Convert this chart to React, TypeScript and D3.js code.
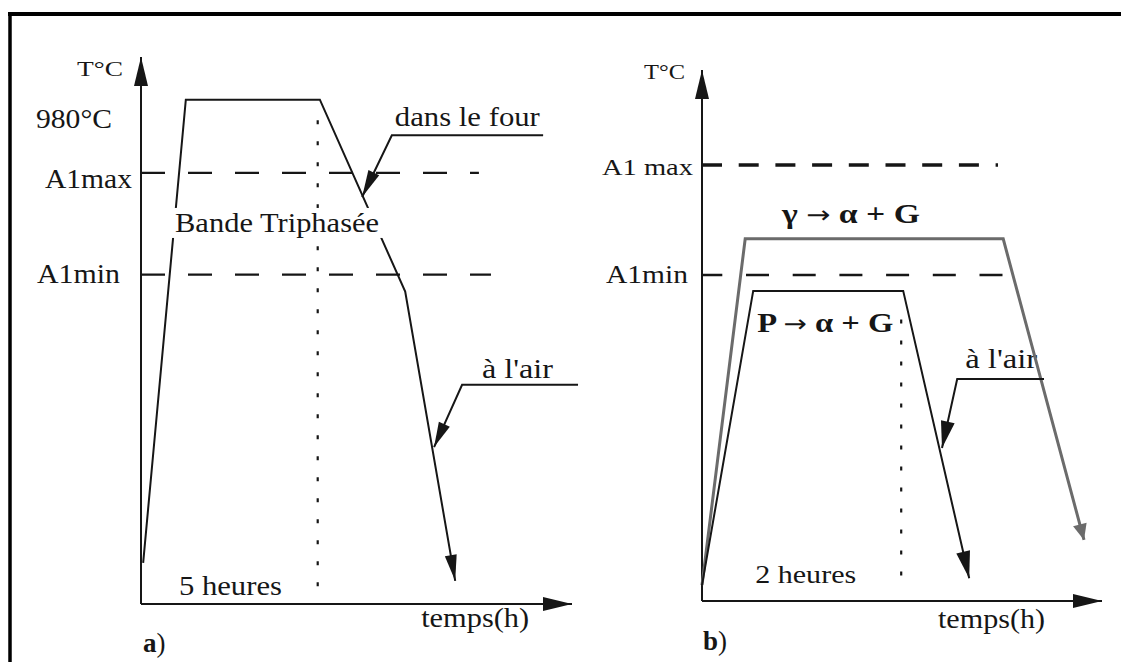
import { useEffect, useRef } from "react";
import * as d3 from "d3";

const WIDTH = 1121;
const HEIGHT = 662;

// ---- panel a) : hold at 980°C (5 h), furnace cooling then air cooling
// time in axis units (0..10), temperature in °C
const timeA = [0.05, 1.04, 4.15, 6.13, 7.29];
const tempA = [80, 980, 980, 607, 45];
const a1TempsA = [838, 640];
const a1LabelsA = ["A1max", "A1min"];
const a1EndsA = [7.84, 8.12];
const holdEndA = 4.1;
const holdTopA = 940;
// leaders (annotation arrows): horizontal end, elbow, tip
const furnaceLeaderT = [9.33, 5.82, 5.13];
const furnaceLeaderTemp = [911, 911, 791];
const airLeaderAT = [10.14, 7.45, 6.8];
const airLeaderATemp = [426, 426, 305];

// ---- panel b) : two cycles, relative temperature 0..100
const timeGamma = [0, 1.08, 7.53, 9.55];
const tempGamma = [3, 68.2, 68.2, 11.5];
const timePearl = [0, 1.28, 5.03, 6.68];
const tempPearl = [3, 58.4, 58.4, 4.3];
const a1TempsB = [82.1, 61.4];
const a1LabelsB = ["A1 max", "A1min"];
const a1EndsB = [7.4, 7.53];
const holdEndB = 4.98;
const holdSpanB = [53, 3];
const airLeaderBT = [8.55, 6.38, 6.0];
const airLeaderBTemp = [41.8, 41.8, 28.8];
// reaction labels: [start phase, products]
const reactionsB = [["γ", "α + G"], ["P", "α + G"]];

const INK = "#161616";
const GREY = "#6b6b6b";
const FONT = "Liberation Serif";

export default function App() {
  const ref = useRef<SVGSVGElement>(null);

  useEffect(() => {
    const svg = d3.select(ref.current);
    svg.selectAll("*").remove();

    const xA = d3.scaleLinear().domain([0, 10]).range([141, 572]);
    const yA = d3.scaleLinear().domain([0, 1063]).range([604, 57]);
    const xB = d3.scaleLinear().domain([0, 10]).range([702, 1102]);
    const yB = d3.scaleLinear().domain([0, 100]).range([601, 70]);

    const line = d3.line<[number, number]>();

    // frame (top and left rule of the scanned page)
    svg.append("line").attr("x1", 8).attr("x2", WIDTH).attr("y1", 14).attr("y2", 14)
      .attr("stroke", "#000").attr("stroke-width", 4);
    svg.append("line").attr("x1", 10).attr("x2", 10).attr("y1", 12).attr("y2", HEIGHT)
      .attr("stroke", "#000").attr("stroke-width", 3.5);

    const head = (g: any, from: [number, number], tip: [number, number], len: number, hw: number, color: string) => {
      const dx = tip[0] - from[0], dy = tip[1] - from[1];
      const d = Math.hypot(dx, dy);
      const ux = dx / d, uy = dy / d;
      const bx = tip[0] - ux * len, by = tip[1] - uy * len;
      g.append("path")
        .attr("d", `M${tip[0]},${tip[1]}L${bx - uy * hw},${by + ux * hw}L${bx + uy * hw},${by - ux * hw}Z`)
        .attr("fill", color);
    };

    const poly = (g: any, pts: [number, number][], color: string, w: number, arrow?: [number, number]) => {
      g.append("path").attr("d", line(pts)).attr("fill", "none")
        .attr("stroke", color).attr("stroke-width", w).attr("stroke-linejoin", "miter");
      if (arrow) head(g, pts[pts.length - 2], pts[pts.length - 1], arrow[0], arrow[1], color);
    };

    const text = (g: any, s: string, x: number, y: number, len: number, size: number, bold = false) =>
      g.append("text").attr("x", x).attr("y", y).attr("font-family", FONT)
        .attr("font-size", size).attr("font-weight", bold ? "bold" : "normal")
        .attr("fill", INK).attr("textLength", len).attr("lengthAdjust", "spacingAndGlyphs").text(s);

    const axes = (g: any, x: any, y: any, yTop: number) => {
      poly(g, [[x(0), y(0)], [x(0), y(yTop)]], INK, 2, [29, 7]);
      poly(g, [[x(0), y(0)], [x(10), y(0)]], INK, 2, [29, 7]);
    };

    // ================= panel a =================
    const ga = svg.append("g");
    axes(ga, xA, yA, 1063);

    a1TempsA.forEach((T, i) => {
      ga.append("line").attr("x1", xA(0)).attr("x2", xA(a1EndsA[i]))
        .attr("y1", yA(T)).attr("y2", yA(T))
        .attr("stroke", INK).attr("stroke-width", 2.2).attr("stroke-dasharray", "24 23");
    });

    ga.append("line").attr("x1", xA(holdEndA)).attr("x2", xA(holdEndA))
      .attr("y1", yA(holdTopA)).attr("y2", yA(0))
      .attr("stroke", INK).attr("stroke-width", 2.2).attr("stroke-dasharray", "4 17");

    const cycleA = timeA.map((t, i) => [xA(t), yA(tempA[i])] as [number, number]);
    poly(ga, cycleA, INK, 2, [26, 6]);

    poly(ga, furnaceLeaderT.map((t, i) => [xA(t), yA(furnaceLeaderTemp[i])] as [number, number]), INK, 2, [27, 6]);
    poly(ga, airLeaderAT.map((t, i) => [xA(t), yA(airLeaderATemp[i])] as [number, number]), INK, 2, [25, 6]);

    // labels a
    text(ga, "T°C", xA(0) - 64, yA(1026), 46, 22);
    text(ga, "980°C", xA(0) - 105, yA(980) + 28, 76, 27);
    a1LabelsA.forEach((s, i) => {
      const w = i === 0 ? 87 : 83;
      const right = i === 0 ? xA(0) - 9 : xA(0) - 21;
      text(ga, s, right - w, yA(a1TempsA[i]) + (i === 0 ? 15 : 8), w, 27);
    });
    text(ga, "dans le four", xA(5.89), yA(929), 145, 27);
    const bande = text(ga, "Bande Triphasée", xA(0.79), yA(723), 204, 27);
    const bb = (bande.node() as SVGTextElement).getBBox();
    ga.insert("rect", () => bande.node())
      .attr("x", bb.x - 4).attr("y", bb.y).attr("width", bb.width + 8).attr("height", bb.height)
      .attr("fill", "#fff");
    text(ga, "à l'air", xA(7.91), yA(439), 71, 27);
    text(ga, "5 heures", xA(0.88), yA(17.5), 103, 27);
    text(ga, "temps(h)", xA(6.5), yA(0) + 23, 108, 27);
    const la = ga.append("text").attr("x", xA(0) + 2).attr("y", yA(0) + 48)
      .attr("font-family", FONT).attr("font-size", 27).attr("fill", INK);
    la.append("tspan").attr("font-weight", "bold").text("a");
    la.append("tspan").text(")");

    // ================= panel b =================
    const gb = svg.append("g");

    text(gb, "T°C", xB(0) - 58, yB(98.3), 41, 22);
    text(gb, "A1 max", xB(0) - 100, yB(a1TempsB[0]) + 10, 91, 24);
    text(gb, "A1min", xB(0) - 96, yB(a1TempsB[1]) + 8, 82, 26);

    // reaction labels, built as phase + long arrow + products
    const reactionPos: [number, number, number][] = [[2.0, 71.2, 138], [1.38, 50.7, 136]];
    reactionsB.forEach(([from, to], i) => {
      const [t, T, w] = reactionPos[i];
      const tx = gb.append("text").attr("x", xB(t)).attr("y", yB(T))
        .attr("font-family", FONT).attr("font-size", 28).attr("font-weight", "bold")
        .attr("fill", INK).attr("textLength", w).attr("lengthAdjust", "spacingAndGlyphs");
      tx.append("tspan").text(from + " ");
      tx.append("tspan").attr("font-family", "DejaVu Sans").attr("font-weight", "normal")
        .attr("font-size", 24).text("→");
      tx.append("tspan").text(" " + to);
    });

    text(gb, "à l'air", xB(6.58), yB(43.9), 72, 27);
    text(gb, "2 heures", xB(1.33), yB(3.4), 101, 26);
    text(gb, "temps(h)", xB(5.9), yB(0) + 27, 107, 27);
    const lb = gb.append("text").attr("x", xB(0) + 1).attr("y", yB(0) + 49)
      .attr("font-family", FONT).attr("font-size", 27).attr("fill", INK);
    lb.append("tspan").attr("font-weight", "bold").text("b");
    lb.append("tspan").text(")");

    axes(gb, xB, yB, 100);

    a1TempsB.forEach((T, i) => {
      gb.append("line").attr("x1", xB(0)).attr("x2", xB(a1EndsB[i]))
        .attr("y1", yB(T)).attr("y2", yB(T))
        .attr("stroke", INK).attr("stroke-width", i === 0 ? 3.5 : 2.5)
        .attr("stroke-dasharray", i === 0 ? "20 16.7" : "23 23.7")
        .attr("stroke-dashoffset", i === 0 ? 0 : 2.7);
    });

    gb.append("line").attr("x1", xB(holdEndB)).attr("x2", xB(holdEndB))
      .attr("y1", yB(holdSpanB[0])).attr("y2", yB(holdSpanB[1]))
      .attr("stroke", INK).attr("stroke-width", 2.2).attr("stroke-dasharray", "4 17");

    poly(gb, timeGamma.map((t, i) => [xB(t), yB(tempGamma[i])] as [number, number]), GREY, 3, [16, 7]);
    poly(gb, timePearl.map((t, i) => [xB(t), yB(tempPearl[i])] as [number, number]), INK, 2, [27, 7]);
    poly(gb, airLeaderBT.map((t, i) => [xB(t), yB(airLeaderBTemp[i])] as [number, number]), INK, 2, [27, 7]);
  }, []);

  return (
    <svg
      ref={ref}
      width={WIDTH}
      height={HEIGHT}
      style={{ position: "absolute", left: 0, top: 0, background: "#fff" }}
    />
  );
}
